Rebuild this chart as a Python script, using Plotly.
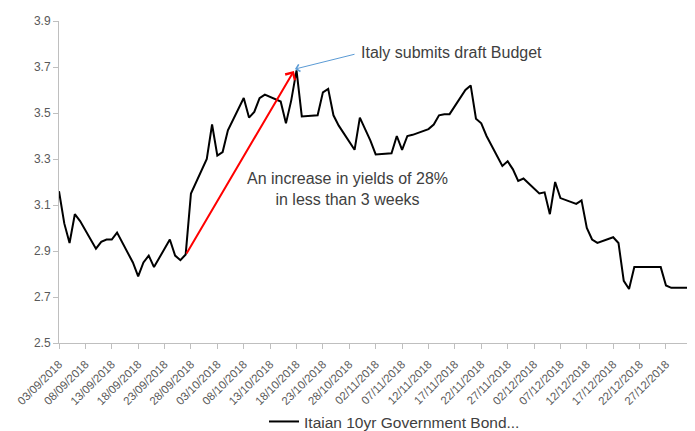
import plotly.graph_objects as go

dates = ['2018-09-03','2018-09-04','2018-09-05','2018-09-06','2018-09-07',
         '2018-09-10','2018-09-11','2018-09-12','2018-09-13','2018-09-14',
         '2018-09-17','2018-09-18','2018-09-19','2018-09-20','2018-09-21',
         '2018-09-24','2018-09-25','2018-09-26','2018-09-27','2018-09-28',
         '2018-10-01','2018-10-02','2018-10-03','2018-10-04','2018-10-05',
         '2018-10-08','2018-10-09','2018-10-10','2018-10-11','2018-10-12',
         '2018-10-15','2018-10-16','2018-10-17','2018-10-18','2018-10-19',
         '2018-10-22','2018-10-23','2018-10-24','2018-10-25','2018-10-26',
         '2018-10-29','2018-10-30','2018-10-31','2018-11-01','2018-11-02',
         '2018-11-05','2018-11-06','2018-11-07','2018-11-08','2018-11-09',
         '2018-11-12','2018-11-13','2018-11-14','2018-11-15','2018-11-16',
         '2018-11-19','2018-11-20','2018-11-21','2018-11-22','2018-11-23',
         '2018-11-26','2018-11-27','2018-11-28','2018-11-29','2018-11-30',
         '2018-12-03','2018-12-04','2018-12-05','2018-12-06','2018-12-07',
         '2018-12-10','2018-12-11','2018-12-12','2018-12-13','2018-12-14',
         '2018-12-17','2018-12-18','2018-12-19','2018-12-20','2018-12-21',
         '2018-12-24','2018-12-26','2018-12-27','2018-12-28','2018-12-31']

yields = [3.16, 3.02, 2.935, 3.06, 3.03,
          2.91, 2.94, 2.95, 2.95, 2.98,
          2.85, 2.79, 2.85, 2.88, 2.83,
          2.95, 2.88, 2.86, 2.885, 3.15,
          3.30, 3.45, 3.315, 3.33, 3.425,
          3.565, 3.48, 3.505, 3.565, 3.58,
          3.55, 3.455, 3.555, 3.685, 3.485,
          3.49, 3.59, 3.605, 3.49, 3.445,
          3.34, 3.48, 3.43, 3.38, 3.32,
          3.325, 3.40, 3.34, 3.40, 3.405,
          3.43, 3.45, 3.49, 3.495, 3.495,
          3.60, 3.62, 3.475, 3.455, 3.40,
          3.27, 3.29, 3.255, 3.205, 3.215,
          3.15, 3.155, 3.06, 3.20, 3.13,
          3.105, 3.12, 3.00, 2.95, 2.935,
          2.96, 2.935, 2.77, 2.735, 2.83,
          2.83, 2.83, 2.75, 2.74, 2.74]

series_name = 'Itaian 10yr Government Bond...'
event_label = 'Italy submits draft Budget'
increase_label = 'An increase in yields of 28%<br>in less than 3 weeks'

FONT = 'Liberation Sans, Arial, sans-serif'
TXT = '#404040'
AX = '#BFBFBF'

fig = go.Figure()
fig.add_trace(go.Scatter(x=dates, y=yields, mode='lines', name=series_name,
                         line=dict(color='black', width=2)))

# red arrow: from 27/09 low to 18/10 peak
fig.add_annotation(x='2018-10-17 12:00', y=3.683, ax='2018-09-27', ay=2.883,
                   xref='x', yref='y', axref='x', ayref='y', text='',
                   showarrow=True, arrowhead=4, arrowsize=1.1, arrowwidth=2,
                   arrowcolor='#FF0000', standoff=0, startstandoff=0)
# blue arrow to peak
fig.add_annotation(x='2018-10-17 17:00', y=3.691, ax='2018-10-29 06:30', ay=3.757,
                   xref='x', yref='y', axref='x', ayref='y', text='',
                   showarrow=True, arrowhead=4, arrowsize=1.4, arrowwidth=1,
                   arrowcolor='#5B9BD5', standoff=0, startstandoff=0)
fig.add_annotation(x='2018-10-29 20:00', y=3.761, xref='x', yref='y',
                   text=event_label, showarrow=False, xanchor='left', yanchor='middle',
                   font=dict(family=FONT, size=16, color=TXT))
fig.add_annotation(x='2018-10-27 13:40', y=3.170, xref='x', yref='y',
                   text=increase_label, showarrow=False, xanchor='center', yanchor='middle',
                   font=dict(family=FONT, size=16, color=TXT))

fig.update_layout(
    width=687, height=423,
    margin=dict(l=51, r=4, t=13, b=88, autoexpand=False),
    paper_bgcolor='white', plot_bgcolor='white',
    font=dict(family=FONT, size=11, color='#595959'),
    showlegend=True,
    legend=dict(orientation='h', x=0.3244, xanchor='left', y=-0.245, yanchor='middle',
                font=dict(family=FONT, size=15.5, color=TXT), bgcolor='rgba(0,0,0,0)'),
    xaxis=dict(type='date', range=['2018-09-03', '2018-12-31 17:45'], automargin=False,
               tick0='2018-09-03', dtick=5 * 86400000, tickformat='%d/%m/%Y',
               tickangle=-45, showgrid=False, zeroline=False, showline=True,
               linecolor=AX, linewidth=1, ticks='outside', ticklen=5, tickcolor=AX,
               ticklabelstandoff=4,
               tickfont=dict(family=FONT, size=11.5, color='#595959')),
    yaxis=dict(range=[2.5, 3.9], tick0=2.5, dtick=0.2, tickformat='.1f', automargin=False,
               showgrid=False, zeroline=False, showline=True, linecolor=AX, linewidth=1,
               ticks='outside', ticklen=5, tickcolor=AX,
               tickfont=dict(family=FONT, size=12, color='#595959')),
)

fig.write_html('out.html')
